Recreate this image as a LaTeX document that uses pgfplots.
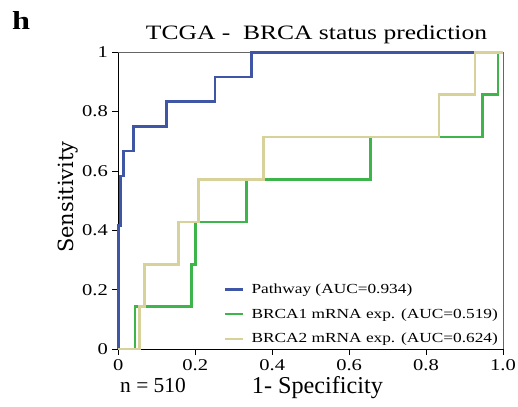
\documentclass[border=0pt]{standalone}
\usepackage{fontspec}
\setmainfont{Liberation Serif}[FakeStretch=1.25]
\newfontfamily\labfont{Liberation Serif}
\newfontfamily\dvserif{DejaVu Serif}
\usepackage{pgfplots}
\pgfplotsset{compat=1.18}

\definecolor{pathblue}{HTML}{3F55A5}
\definecolor{brcaone}{HTML}{3DB54A}
\definecolor{brcatwo}{HTML}{D6D29A}

\begin{document}
\begin{tikzpicture}
\useasboundingbox (-118.3bp,-58bp) rectangle (399.7bp,349bp);
\begin{axis}[
  at={(0,0)}, anchor=south west,
  scale only axis, width=384.7bp, height=296.7bp,
  xmin=0, xmax=1, ymin=0, ymax=1,
  clip=false,
  axis x line*=bottom, axis y line*=left,
  axis line style={black, line width=1pt, -},
  xtick={0,0.2,0.4,0.6,0.8,1}, xticklabels={0,0.2,0.4,0.6,0.8,1.0},
  ytick={0,0.2,0.4,0.6,0.8,1}, yticklabels={0,0.2,0.4,0.6,0.8,1},
  tick align=outside, major tick length=6bp,
  tick style={black, line width=0.9pt},
  /pgf/number format/assume math mode=true,
  tick label style={font=\fontsize{16.5}{16.5}\selectfont},
  xticklabel style={yshift=-1bp},
  yticklabel style={xshift=-1bp},
  legend style={at={(rel axis cs:0.995,0.005)}, anchor=south east,
    draw=none, fill=none, font=\fontsize{13.9}{13.9}\selectfont,
    row sep=9.5bp, inner sep=1bp,
    /tikz/every odd column/.append style={column sep=5bp}},
  legend cell align=left,
  legend image code/.code={\draw[#1, line width=2.4pt] (-3bp,0bp) -- (15bp,0bp);},
]
% grey top and right frame, under the curves
\draw[gray!80!black, line width=1pt] (rel axis cs:0,1) -- (rel axis cs:1,1) -- (rel axis cs:1,0);
\addplot[pathblue, line width=2.6pt] coordinates {
 (0,0) (0,0.4167) (0.006,0.4167) (0.006,0.5833) (0.013,0.5833) (0.013,0.6667)
 (0.039,0.6667) (0.039,0.75) (0.126,0.75) (0.126,0.8333) (0.251,0.8333)
 (0.251,0.9167) (0.347,0.9167) (0.347,1) (1,1)};
\addlegendentry{Pathway (AUC=0.934)}
\addplot[brcaone, line width=2.6pt] coordinates {
 (0,0) (0.043,0) (0.043,0.1429) (0.191,0.1429) (0.191,0.2857) (0.201,0.2857)
 (0.201,0.4286) (0.334,0.4286) (0.334,0.5714) (0.656,0.5714) (0.656,0.7143)
 (0.947,0.7143) (0.947,0.8571) (0.987,0.8571) (0.987,1) (1,1)};
\addlegendentry{BRCA1 mRNA exp. (AUC=0.519)}
\addplot[brcatwo, line width=2.6pt] coordinates {
 (0,0) (0.055,0) (0.055,0.1429) (0.068,0.1429) (0.068,0.2857) (0.156,0.2857)
 (0.156,0.4286) (0.208,0.4286) (0.208,0.5714) (0.377,0.5714) (0.377,0.7143)
 (0.834,0.7143) (0.834,0.8571) (0.927,0.8571) (0.927,1) (1,1)};
\addlegendentry{BRCA2 mRNA exp. (AUC=0.624)}
\end{axis}
\node[anchor=base, font=\fontsize{20.5}{20.5}\selectfont] at (198.2bp,309.7bp) {TCGA -\ \ BRCA status prediction};
\node[anchor=base west, inner sep=0pt, font=\fontsize{26}{26}\selectfont\bfseries] at (-106.3bp,319bp) {h};
\node[anchor=base west, inner sep=0pt, font=\labfont\fontsize{21.5}{21.5}\selectfont] at (1.7bp,-43bp) {n = 510};
\node[anchor=base west, inner sep=0pt, font=\labfont\fontsize{24.3}{24.3}\selectfont] at (133.4bp,-44bp) {1- Specificity};
\node[rotate=90, inner sep=0pt, font=\dvserif\fontsize{21}{21}\selectfont] at (-50.3bp,152bp) {Sensitivity};
\end{tikzpicture}
\end{document}
